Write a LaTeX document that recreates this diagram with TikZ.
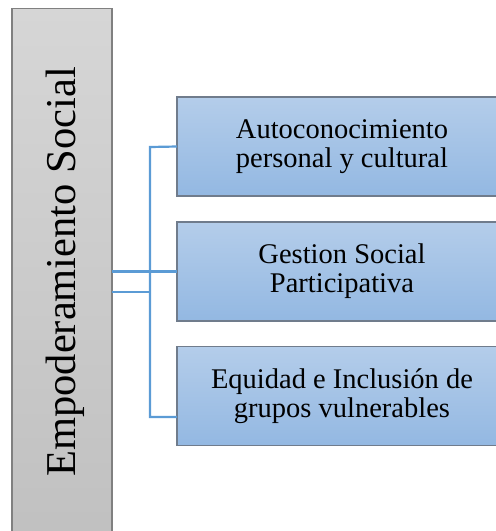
\documentclass[tikz,border=0pt]{standalone}
\usepackage{fontspec}
\setmainfont{Liberation Serif}
\begin{document}
\begin{tikzpicture}[x=1pt,y=-1pt,
  mainbox/.style={draw={rgb,255:red,128;green,128;blue,128}, line width=1.4pt, top color={rgb,255:red,214;green,214;blue,214}, bottom color={rgb,255:red,192;green,192;blue,192},
    minimum width=100pt, minimum height=540pt, anchor=north west, inner sep=0pt, outer sep=0pt},
  childbox/.style={draw={rgb,255:red,112;green,124;blue,140}, line width=1.4pt, top color={rgb,255:red,180;green,205;blue,234},
    bottom color={rgb,255:red,147;green,184;blue,226},
    minimum width=330pt, minimum height=99pt, anchor=north west, inner sep=0pt, outer sep=0pt,
    align=center, font=\fontsize{28.5}{29}\selectfont},
  conn/.style={draw={rgb,255:red,91;green,155;blue,213}, line width=2.2pt}]
\useasboundingbox (0,0) rectangle (496,531);
\clip (0,0) rectangle (496,531);
\node[mainbox] (emp) at (12,8.5) {};
\node[rotate=90, anchor=base, font=\fontsize{42.5}{44}\selectfont] (empt) at (75,272) {Empoderamiento Social};
\node[childbox] (b1) at (177,97) {Autoconocimiento\\personal y cultural};
\node[childbox] (b2) at (177,222) {Gestion Social\\Participativa};
\node[childbox] (b3) at (177,346.5) {Equidad e Inclusión de\\grupos vulnerables};
\coordinate (j1) at (150,147);
\coordinate (j3) at (150,417);
\coordinate (c3) at (177,417);
\coordinate (c0) at (112,292);
\coordinate (j0) at (150,292);
\draw[conn] (b1.west) -- (j1) -- (j3) -- (c3);
\draw[conn] (emp.east |- b2.west) -- (b2.west);
\draw[conn] (c0) -- (j0);
\end{tikzpicture}
\end{document}
